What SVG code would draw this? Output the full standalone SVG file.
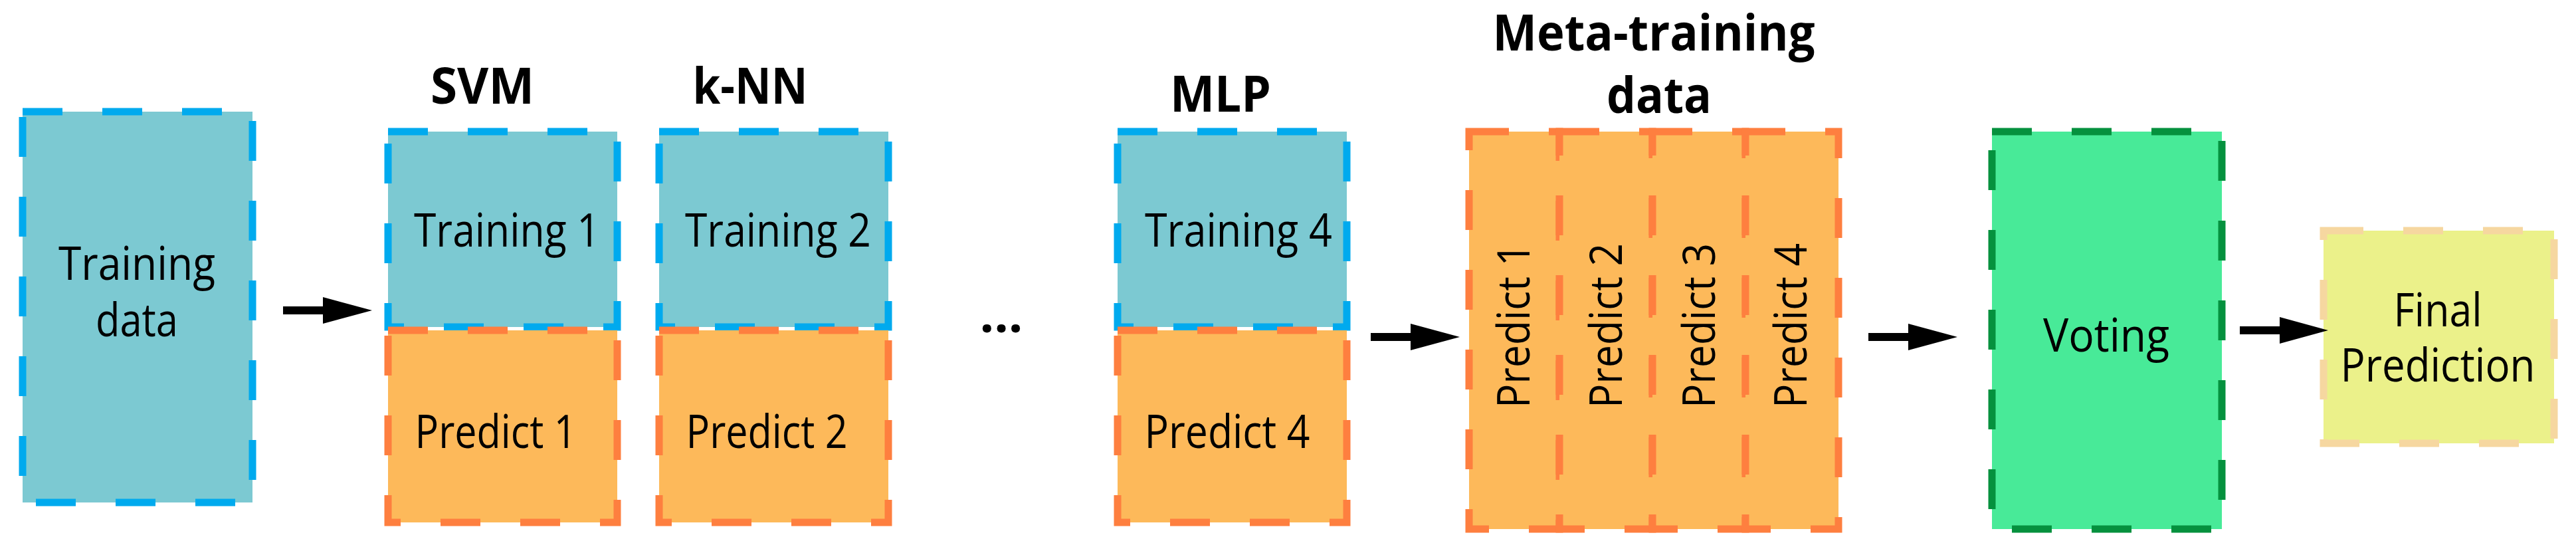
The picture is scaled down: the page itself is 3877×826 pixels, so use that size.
<svg xmlns="http://www.w3.org/2000/svg" width="3877" height="826" viewBox="0 0 3877 826">
<defs>
<style>
.t{font-family:"Open Sans","Liberation Sans",sans-serif;font-size:70px;fill:#000;text-anchor:middle}
.h{font-family:"Open Sans","Liberation Sans",sans-serif;font-size:76px;font-weight:bold;fill:#000;text-anchor:middle}
.v{font-family:"Open Sans","Liberation Sans",sans-serif;font-size:68px;fill:#000;text-anchor:middle}
.tr{fill:#7CC9D2;stroke:#00AAEE;stroke-width:11;stroke-dasharray:60 60}
.pr{fill:#FDB95A;stroke:#FE7F3F;stroke-width:11;stroke-dasharray:60 60}
.a{stroke:#000;stroke-width:12;fill:none}
</style>
</defs>
<g id="training-data"><rect class="tr" x="34" y="168" width="346" height="588"/>
<text class="t" x="206" y="421" textLength="236" lengthAdjust="spacingAndGlyphs">Training</text>
<text class="t" x="206" y="506" textLength="124" lengthAdjust="spacingAndGlyphs">data</text></g>
<g id="svm"><text class="h" x="726" y="156" textLength="156" lengthAdjust="spacingAndGlyphs">SVM</text>
<rect class="tr" x="584" y="198" width="345" height="294"/>
<rect class="pr" x="584" y="497" width="345" height="289"/>
<text class="t" x="763" y="371" textLength="280" lengthAdjust="spacingAndGlyphs">Training 1</text>
<text class="t" x="746" y="674" textLength="243" lengthAdjust="spacingAndGlyphs">Predict 1</text></g>
<g id="knn"><text class="h" x="1129" y="156" textLength="173" lengthAdjust="spacingAndGlyphs">k-NN</text>
<rect class="tr" x="992" y="198" width="345" height="294"/>
<rect class="pr" x="992" y="497" width="345" height="289"/>
<text class="t" x="1171" y="371" textLength="280" lengthAdjust="spacingAndGlyphs">Training 2</text>
<text class="t" x="1154" y="674" textLength="243" lengthAdjust="spacingAndGlyphs">Predict 2</text></g>
<g id="ellipsis"><text class="h" x="1507" y="500">...</text></g>
<g id="mlp"><text class="h" x="1837" y="168" textLength="152" lengthAdjust="spacingAndGlyphs">MLP</text>
<rect class="tr" x="1682" y="198" width="345" height="294"/>
<rect class="pr" x="1682" y="497" width="345" height="289"/>
<text class="t" x="1864" y="371" textLength="282" lengthAdjust="spacingAndGlyphs">Training 4</text>
<text class="t" x="1847" y="674" textLength="249" lengthAdjust="spacingAndGlyphs">Predict 4</text></g>
<g id="meta"><text class="h" x="2489" y="76" textLength="485" lengthAdjust="spacingAndGlyphs">Meta-training</text>
<text class="h" x="2497" y="170" textLength="158" lengthAdjust="spacingAndGlyphs">data</text>
<rect class="pr" x="2211" y="198" width="136" height="598"/>
<rect class="pr" x="2347" y="198" width="140" height="598"/>
<rect class="pr" x="2487" y="198" width="140" height="598"/>
<rect class="pr" x="2627" y="198" width="140" height="598"/>
<text class="v" transform="translate(2302,490) rotate(-90)" textLength="248" lengthAdjust="spacingAndGlyphs">Predict 1</text>
<text class="v" transform="translate(2441,490) rotate(-90)" textLength="248" lengthAdjust="spacingAndGlyphs">Predict 2</text>
<text class="v" transform="translate(2581,490) rotate(-90)" textLength="248" lengthAdjust="spacingAndGlyphs">Predict 3</text>
<text class="v" transform="translate(2719,490) rotate(-90)" textLength="248" lengthAdjust="spacingAndGlyphs">Predict 4</text></g>
<g id="voting"><rect x="2998" y="198" width="346" height="598" fill="#48EA98" stroke="#05913E" stroke-width="11" stroke-dasharray="60 60"/>
<text class="t" x="3170" y="529" textLength="190" lengthAdjust="spacingAndGlyphs">Voting</text></g>
<g id="final"><rect x="3497" y="347" width="347" height="320" fill="#EBF18A" stroke="#F6D7A0" stroke-width="11" stroke-dasharray="60 60"/>
<text class="t" x="3669" y="491" textLength="133" lengthAdjust="spacingAndGlyphs">Final</text>
<text class="t" x="3669" y="574" textLength="293" lengthAdjust="spacingAndGlyphs">Prediction</text></g>
<g id="connectors">
<path d="M426,467 H490" class="a"/><path d="M486,447 L560,467 L486,487 Z"/>
<path d="M2063,507 H2127" class="a"/><path d="M2123,487 L2197,507 L2123,527 Z"/>
<path d="M2812,507 H2876" class="a"/><path d="M2872,487 L2946,507 L2872,527 Z"/>
<path d="M3371,497 H3435" class="a"/><path d="M3431,477 L3504,497 L3431,517 Z"/>
</g>
</svg>
